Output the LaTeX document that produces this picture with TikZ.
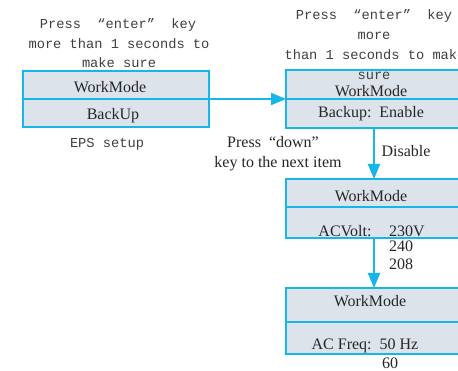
\documentclass[tikz,border=0pt]{standalone}
\usepackage{fontspec}
\setmainfont{Liberation Serif}
\newfontfamily\monof{Liberation Mono}
\usetikzlibrary{arrows.meta}
\definecolor{lineblue}{RGB}{22,182,232}
\definecolor{boxfill}{RGB}{221,227,234}
\tikzset{
  panel/.style={draw=lineblue, fill=boxfill, line width=2pt, inner sep=0pt, outer sep=0pt},
  divider/.style={draw=lineblue, line width=2pt},
  conn/.style={draw=lineblue, line width=2pt, -{Triangle[length=15pt,width=12pt]}},
  serif/.style={inner sep=0pt, anchor=base, font=\fontsize{16}{19}\selectfont, text=black!85},
  mono/.style={inner sep=0pt, anchor=base, font=\monof\fontsize{13.7}{20}\selectfont, text=black!75},
}
\begin{document}
\begin{tikzpicture}[x=1pt,y=-1pt]
\useasboundingbox (0,0) rectangle (458,371);
\clip (0,0) rectangle (458,371);
\fill[white] (0,0) rectangle (458,371);
% boxes
\node[panel, minimum width=186pt, minimum height=56pt] (lb) at (116,99) {};
\node[panel, minimum width=176pt, minimum height=58pt] (rb1) at (374,99) {};
\node[panel, minimum width=176pt, minimum height=59pt] (rb2) at (374,208.5) {};
\node[panel, minimum width=176pt, minimum height=66pt] (rb3) at (374,321) {};
\draw[divider] (lb.west) -- (lb.east);
\draw[divider] (rb1.west) -- (rb1.east);
\draw[divider] (rb2.west |- 0,207) -- (rb2.east |- 0,207);
\draw[divider] (rb3.west |- 0,322) -- (rb3.east |- 0,322);
% connectors
\draw[conn] (lb.east) -- (rb1.west);
\draw[conn] (rb1.south) -- (rb2.north);
\draw[conn] (rb2.south) -- (rb3.north);
% left texts
\node[mono] (t1) at (118,29) {Press\ \ “enter”\ \ key};
\node[mono] (t2) at (119,48.5) {more than 1 seconds to};
\node[mono] (t3) at (119,68) {make sure};
\node[mono] (eps) at (107,148) {EPS setup};
\node[serif] (lw) at (110,93) {WorkMode};
\node[serif] (lbk) at (113,120) {BackUp};
% right top texts
\node[mono] (r1) at (374,20) {Press\ \ “enter”\ \ key};
\node[mono] (r2) at (374,40) {more};
\node[mono] (r3) at (375,60) {than 1 seconds to make};
\node[mono] (r4) at (374,80) {sure};
\node[serif] (rw1) at (371,97) {WorkMode};
\node[serif] (rbe) at (371,118) {Backup:\ \ Enable};
% middle texts
\node[serif] (pd1) at (273,148) {Press~~“down”};
\node[serif] (pd2) at (278,168) {key to the next item};
\node[serif] (dis) at (406,157) {Disable};
% box 2
\node[serif] (rw2) at (371,202) {WorkMode};
\node[serif] (acv) at (345,236.5) {ACVolt:};
\node[serif, anchor=base west] (v1) at (389,236.5) {230V};
\node[serif, anchor=base west] (v2) at (389,251.5) {240};
\node[serif, anchor=base west] (v3) at (389,270) {208};
% box 3
\node[serif] (rw3) at (370,307) {WorkMode};
\node[serif] (acf) at (365,350) {AC Freq:\ \ 50 Hz};
\node[serif] (f2) at (390,369) {60};
\end{tikzpicture}
\end{document}
